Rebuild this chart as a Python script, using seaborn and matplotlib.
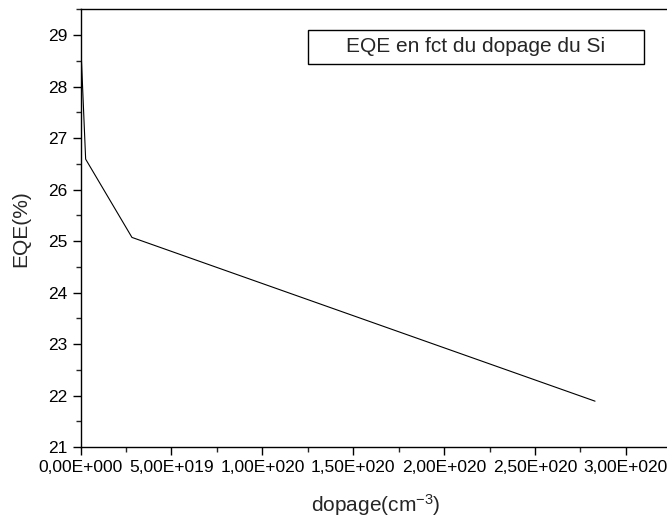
import matplotlib
matplotlib.use("Agg")
import matplotlib.pyplot as plt
from matplotlib.patches import Rectangle
from matplotlib.ticker import MultipleLocator
import seaborn as sns
import pandas as pd

dopage = [2.83e17, 2.83e18, 2.83e19, 2.83e20]
eqe = [28.71, 26.59, 25.07, 21.89]
x_ticks = [0, 5e19, 1e20, 1.5e20, 2e20, 2.5e20, 3e20]
x_labels = ["0,00E+000", "5,00E+019", "1,00E+020", "1,50E+020", "2,00E+020", "2,50E+020", "3,00E+020"]
y_ticks = [21, 22, 23, 24, 25, 26, 27, 28, 29]
legend_text = "EQE en fct du dopage du Si"

sns.set_style("ticks")
plt.rcParams['font.family'] = ['Liberation Sans', 'DejaVu Sans']
plt.rcParams['mathtext.fontset'] = 'custom'
plt.rcParams['mathtext.rm'] = 'Liberation Sans'
plt.rcParams['mathtext.it'] = 'Liberation Sans:italic'

df = pd.DataFrame({"dopage": dopage, "EQE": eqe})

fig = plt.figure(figsize=(6.67, 5.21), dpi=100)
ax = fig.add_axes([80.5/667, (521-447)/521, (671.4-80.5)/667, (447-9.3)/521])
sns.lineplot(data=df, x="dopage", y="EQE", ax=ax, color="black", linewidth=0.8)

ax.set_xlim(0, 3.25e20)
ax.set_ylim(21, 29.5)
ax.set_xticks(x_ticks)
ax.set_xticklabels(x_labels)
ax.set_yticks(y_ticks)
ax.xaxis.set_minor_locator(MultipleLocator(2.5e19))
ax.yaxis.set_minor_locator(MultipleLocator(0.5))
for s in ax.spines.values():
    s.set_visible(True)
    s.set_linewidth(1.0)
    s.set_color("black")
ax.tick_params(which="major", direction="out", length=6, width=1, labelsize=12.5, colors="black", top=False, right=False)
ax.tick_params(which="minor", direction="out", length=3.5, width=1, top=False, right=False)
ax.tick_params(axis="x", which="major", pad=3)
ax.set_xlabel("dopage(cm$^{\\mathregular{-3}}$)", fontsize=15, labelpad=13)
ax.set_ylabel("EQE(%)", fontsize=15, labelpad=13)

rect = Rectangle((308/667, (521-64)/521), 336/667, 34/521, transform=fig.transFigure,
                 fill=False, edgecolor="black", linewidth=1.0)
fig.patches.append(rect)
fig.text(476/667, (521-47)/521, legend_text, ha="center", va="center", fontsize=15)

fig.savefig("out.png", dpi=100)
